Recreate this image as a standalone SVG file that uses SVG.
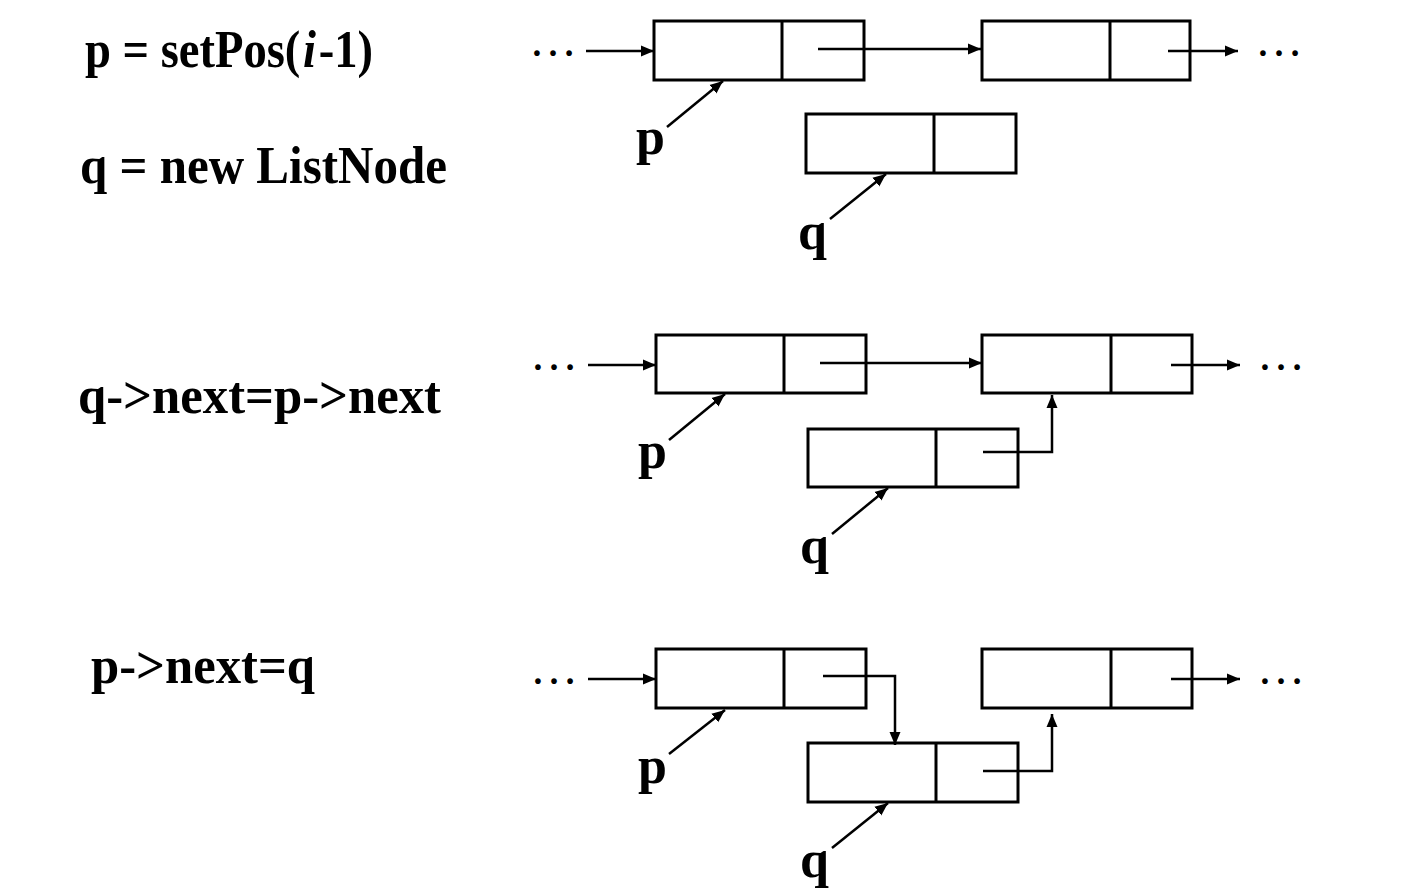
<svg xmlns="http://www.w3.org/2000/svg" width="1410" height="891" viewBox="0 0 1410 891">
<style>
.box{fill:#fff;stroke:#000;stroke-width:3}
.dv{stroke:#000;stroke-width:3}
.conn{fill:none;stroke:#000;stroke-width:2.5}
.lbl{font-family:"Liberation Serif","Times New Roman",serif;font-weight:bold;font-size:52px;fill:#000}
.ptr{font-family:"Liberation Serif","Times New Roman",serif;font-weight:bold;font-size:52px;fill:#000}
.dots{font-family:"Liberation Serif","Times New Roman",serif;font-size:48px;fill:#000;text-anchor:middle}
</style>
<defs>
<marker id="ah" markerUnits="userSpaceOnUse" markerWidth="14" markerHeight="12" refX="13" refY="6" orient="auto">
<path d="M0,0.5 L13,6 L0,11.5 z" fill="#000"/>
</marker>
</defs>
<rect width="1410" height="891" fill="#fff"/>

<g id="captions">
<text class="lbl" x="85" y="67" textLength="288" lengthAdjust="spacingAndGlyphs">p = setPos(<tspan dx="3" font-style="italic">i</tspan><tspan dx="3">-1)</tspan></text>
<text class="lbl" x="80" y="183" textLength="367" lengthAdjust="spacingAndGlyphs">q = new ListNode</text>
<text class="lbl" x="78" y="413" textLength="363" lengthAdjust="spacingAndGlyphs">q-&gt;next=p-&gt;next</text>
<text class="lbl" x="91" y="683" textLength="224" lengthAdjust="spacingAndGlyphs">p-&gt;next=q</text>
</g>

<!-- Panel 1 -->
<g id="p1-nodeA"><rect class="box" x="654" y="21" width="210" height="59"/><line class="dv" x1="782" y1="21" x2="782" y2="80"/></g>
<g id="p1-nodeB"><rect class="box" x="982" y="21" width="208" height="59"/><line class="dv" x1="1110" y1="21" x2="1110" y2="80"/></g>
<g id="p1-nodeQ"><rect class="box" x="806" y="114" width="210" height="59"/><line class="dv" x1="934" y1="114" x2="934" y2="173"/></g>
<g id="p1-labels">
<text class="dots" x="553" y="56">…</text>
<text class="dots" x="1279" y="56">…</text>
<text class="ptr" x="636" y="154">p</text>
<text class="ptr" x="798" y="249">q</text>
</g>

<!-- Panel 2 -->
<g id="p2-nodeA"><rect class="box" x="656" y="335" width="210" height="58"/><line class="dv" x1="784" y1="335" x2="784" y2="393"/></g>
<g id="p2-nodeB"><rect class="box" x="982" y="335" width="210" height="58"/><line class="dv" x1="1111" y1="335" x2="1111" y2="393"/></g>
<g id="p2-nodeQ"><rect class="box" x="808" y="429" width="210" height="58"/><line class="dv" x1="936" y1="429" x2="936" y2="487"/></g>
<g id="p2-labels">
<text class="dots" x="554" y="370">…</text>
<text class="dots" x="1281" y="370">…</text>
<text class="ptr" x="638" y="468">p</text>
<text class="ptr" x="800" y="563">q</text>
</g>

<!-- Panel 3 -->
<g id="p3-nodeA"><rect class="box" x="656" y="649" width="210" height="59"/><line class="dv" x1="784" y1="649" x2="784" y2="708"/></g>
<g id="p3-nodeB"><rect class="box" x="982" y="649" width="210" height="59"/><line class="dv" x1="1111" y1="649" x2="1111" y2="708"/></g>
<g id="p3-nodeQ"><rect class="box" x="808" y="743" width="210" height="59"/><line class="dv" x1="936" y1="743" x2="936" y2="802"/></g>
<g id="p3-labels">
<text class="dots" x="554" y="684">…</text>
<text class="dots" x="1281" y="684">…</text>
<text class="ptr" x="638" y="783">p</text>
<text class="ptr" x="800" y="877">q</text>
</g>

<g id="connectors">
<!-- panel 1 -->
<line class="conn" x1="586" y1="51" x2="654" y2="51" marker-end="url(#ah)"/>
<line class="conn" x1="818" y1="49" x2="981" y2="49" marker-end="url(#ah)"/>
<line class="conn" x1="1168" y1="51" x2="1238" y2="51" marker-end="url(#ah)"/>
<line class="conn" x1="667" y1="127" x2="723" y2="81" marker-end="url(#ah)"/>
<line class="conn" x1="830" y1="219" x2="886" y2="174" marker-end="url(#ah)"/>
<!-- panel 2 -->
<line class="conn" x1="588" y1="365" x2="656" y2="365" marker-end="url(#ah)"/>
<line class="conn" x1="820" y1="363" x2="982" y2="363" marker-end="url(#ah)"/>
<line class="conn" x1="1171" y1="365" x2="1240" y2="365" marker-end="url(#ah)"/>
<line class="conn" x1="669" y1="440" x2="725" y2="394" marker-end="url(#ah)"/>
<line class="conn" x1="832" y1="534" x2="888" y2="488" marker-end="url(#ah)"/>
<polyline class="conn" points="983,452 1052,452 1052,395" marker-end="url(#ah)"/>
<!-- panel 3 -->
<line class="conn" x1="588" y1="679" x2="656" y2="679" marker-end="url(#ah)"/>
<polyline class="conn" points="823,676 895,676 895,745" marker-end="url(#ah)"/>
<line class="conn" x1="1171" y1="679" x2="1240" y2="679" marker-end="url(#ah)"/>
<line class="conn" x1="669" y1="754" x2="725" y2="710" marker-end="url(#ah)"/>
<line class="conn" x1="832" y1="848" x2="888" y2="803" marker-end="url(#ah)"/>
<polyline class="conn" points="983,771 1052,771 1052,714" marker-end="url(#ah)"/>
</g>
</svg>
